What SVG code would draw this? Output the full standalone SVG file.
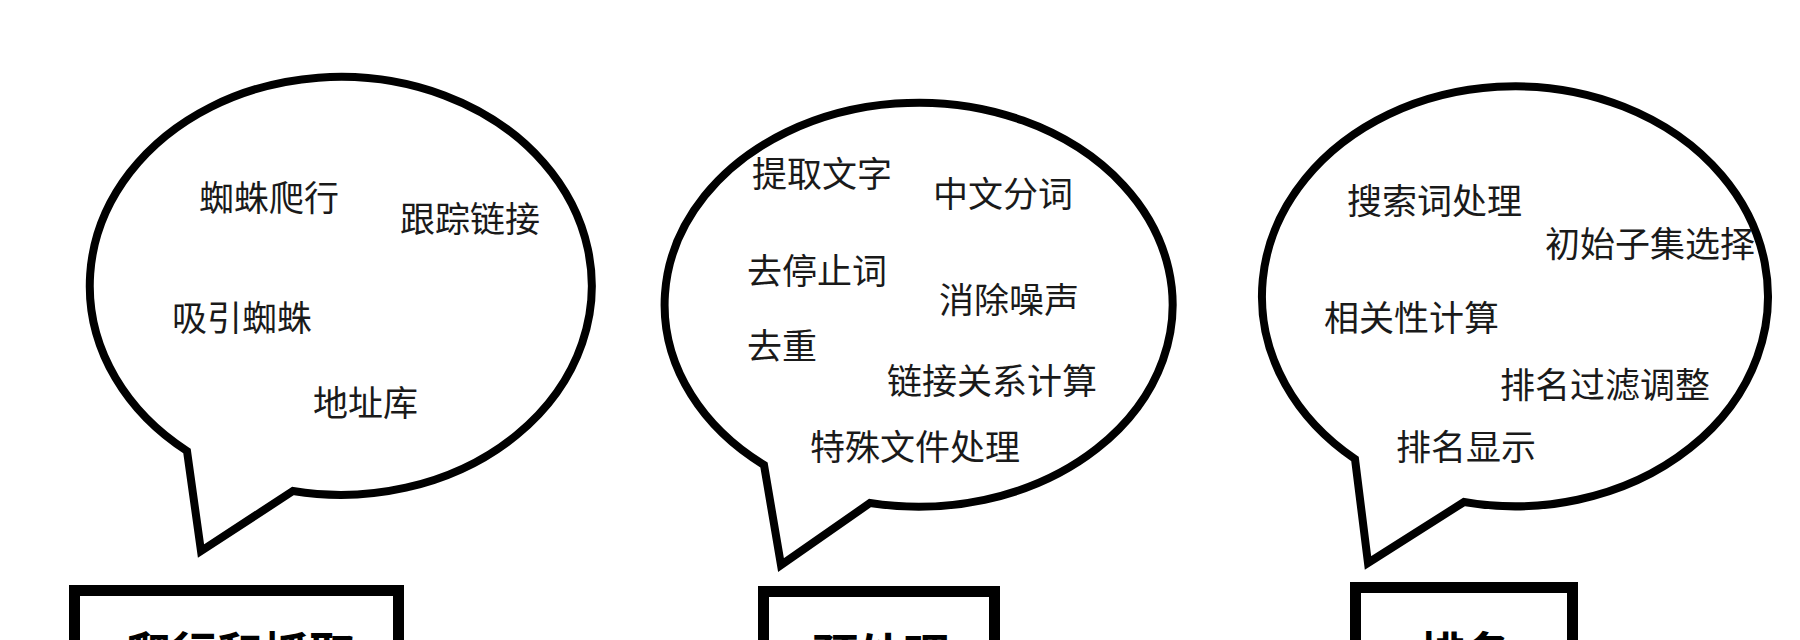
<svg xmlns="http://www.w3.org/2000/svg" width="1800" height="640" viewBox="0 0 1800 640">
<style>
.bubble{fill:#fff;stroke:#000;stroke-width:8;stroke-linejoin:miter}
.box{fill:#fff;stroke:#000;stroke-width:11}
.t{font-family:"Noto Sans CJK SC","Liberation Sans",sans-serif;font-size:35px;fill:#1a1a1a}
.bt{font-family:"Noto Sans CJK SC","Liberation Sans",sans-serif;font-size:46px;font-weight:700;fill:#000;text-anchor:middle}
</style>
<rect width="1800" height="640" fill="#fff"/>
<g id="bubble-crawl">
<path class="bubble" d="M187 451 L201 551 L293 491 A251 209 0 1 0 187 451 Z"/>
<text class="t" x="199" y="211">蜘蛛爬行</text>
<text class="t" x="400" y="232">跟踪链接</text>
<text class="t" x="172" y="331">吸引蜘蛛</text>
<text class="t" x="313" y="416">地址库</text>
</g>
<g id="bubble-preprocess">
<path class="bubble" d="M764 465 L781 565 L870 503 A254 202 0 1 0 764 465 Z"/>
<text class="t" x="752" y="187">提取文字</text>
<text class="t" x="933" y="207">中文分词</text>
<text class="t" x="747" y="284">去停止词</text>
<text class="t" x="939" y="313">消除噪声</text>
<text class="t" x="747" y="359">去重</text>
<text class="t" x="887" y="394">链接关系计算</text>
<text class="t" x="810" y="460">特殊文件处理</text>
</g>
<g id="bubble-rank">
<path class="bubble" d="M1355 459 L1368 563 L1464 502 A253 210 0 1 0 1355 459 Z"/>
<text class="t" x="1347" y="214">搜索词处理</text>
<text class="t" x="1545" y="257">初始子集选择</text>
<text class="t" x="1324" y="331">相关性计算</text>
<text class="t" x="1500" y="398">排名过滤调整</text>
<text class="t" x="1396" y="460">排名显示</text>
</g>
<g id="box-crawl">
<rect class="box" x="74.5" y="590.5" width="324" height="100"/>
<text class="bt" x="240" y="670">爬行和抓取</text>
</g>
<g id="box-preprocess">
<rect class="box" x="763.5" y="591.5" width="231" height="100"/>
<text class="bt" x="881" y="672">预处理</text>
</g>
<g id="box-rank">
<rect class="box" x="1355.5" y="587.5" width="217" height="100"/>
<text class="bt" x="1465" y="670">排名</text>
</g>
<g id="connectors"></g>
</svg>
